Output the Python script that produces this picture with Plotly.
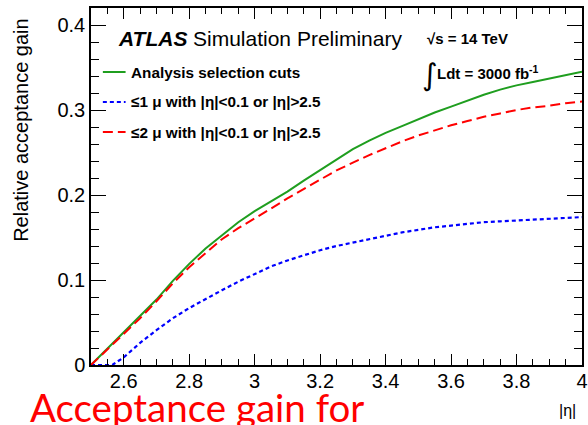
import plotly.graph_objects as go

# ---- data ----
eta_green = [2.50, 2.55, 2.60, 2.65, 2.70, 2.75, 2.80, 2.85, 2.90, 2.95, 3.00, 3.05, 3.10, 3.15, 3.20,
             3.25, 3.30, 3.35, 3.40, 3.45, 3.50, 3.55, 3.60, 3.65, 3.70, 3.75, 3.80, 3.85, 3.90, 3.95, 4.00]
gain_green = [0.0, 0.019, 0.038, 0.057, 0.077, 0.099, 0.119, 0.137, 0.153, 0.168, 0.181, 0.192, 0.204,
              0.217, 0.229, 0.242, 0.254, 0.264, 0.273, 0.281, 0.289, 0.297, 0.304, 0.311, 0.318, 0.324,
              0.329, 0.333, 0.337, 0.341, 0.345]

eta_red = eta_green
gain_red = [0.0, 0.018, 0.037, 0.055, 0.075, 0.096, 0.115, 0.132, 0.148, 0.161, 0.172, 0.184, 0.196,
            0.207, 0.218, 0.229, 0.238, 0.247, 0.255, 0.263, 0.270, 0.276, 0.282, 0.287, 0.292, 0.296,
            0.300, 0.303, 0.305, 0.308, 0.310]

eta_blue = [2.50, 2.565, 2.60, 2.65, 2.70, 2.75, 2.80, 2.85, 2.90, 2.95, 3.00, 3.05, 3.10, 3.15, 3.20,
            3.25, 3.30, 3.35, 3.40, 3.45, 3.50, 3.55, 3.60, 3.65, 3.70, 3.75, 3.80, 3.85, 3.90, 3.95, 4.00]
gain_blue = [0.0, 0.0, 0.009, 0.026, 0.041, 0.055, 0.067, 0.078, 0.088, 0.098, 0.107, 0.116, 0.123,
             0.129, 0.135, 0.140, 0.144, 0.148, 0.152, 0.156, 0.159, 0.162, 0.164, 0.166, 0.168, 0.169,
             0.170, 0.171, 0.172, 0.173, 0.174]

x_ticks = [2.6, 2.8, 3.0, 3.2, 3.4, 3.6, 3.8, 4.0]
x_ticktext = ["2.6", "2.8", "3", "3.2", "3.4", "3.6", "3.8", "4"]
y_ticks = [0.0, 0.1, 0.2, 0.3, 0.4]
y_ticktext = ["0", "0.1", "0.2", "0.3", "0.4"]

series_names = ["Analysis selection cuts",
                "≤1 μ with |η|<0.1 or |η|>2.5",
                "≤2 μ with |η|<0.1 or |η|>2.5"]

GREEN = "#1f9e1f"
BLUE = "#0000ff"
RED = "#ff0000"
FONT = "Liberation Sans"

W, H = 588, 425
ML, MR, MT, MB = 91, 0, 8, 60
PW, PH = W - ML - MR, H - MT - MB


def px(x, y):
    """pixel position -> paper coordinates"""
    return (x - ML) / PW, (H - MB - y) / PH


fig = go.Figure()
fig.add_trace(go.Scatter(x=eta_green, y=gain_green, mode="lines", name=series_names[0],
                         line=dict(color=GREEN, width=2)))
fig.add_trace(go.Scatter(x=eta_blue, y=gain_blue, mode="lines", name=series_names[1],
                         line=dict(color=BLUE, width=2.2, dash="4px,3px")))
fig.add_trace(go.Scatter(x=eta_red, y=gain_red, mode="lines", name=series_names[2],
                         line=dict(color=RED, width=2, dash="10px,5px")))

annotations = []
shapes = []

# legend samples
styles = [(GREEN, "solid", 2), (BLUE, "4px,3px", 2.2), (RED, "10px,5px", 2)]
for i, (name, (c, d, w)) in enumerate(zip(series_names, styles)):
    yy = 72 + 30 * i
    x0, y0 = px(103, yy)
    x1, _ = px(126, yy)
    shapes.append(dict(type="line", xref="paper", yref="paper", x0=x0, x1=x1, y0=y0, y1=y0,
                       line=dict(color=c, width=w, dash=d)))
    tx, ty = px(129, yy)
    annotations.append(dict(xref="paper", yref="paper", x=tx, y=ty, xanchor="left", yanchor="middle",
                            text="<b>" + name + "</b>", showarrow=False,
                            font=dict(family=FONT, size=15.3, color="black")))

ax_, ay_ = px(116, 38)
annotations.append(dict(xref="paper", yref="paper", x=ax_, y=ay_, xanchor="left", yanchor="middle",
                        text="<b><i>ATLAS</i></b>", showarrow=False,
                        font=dict(family=FONT, size=21, color="black")))
sx, sy = px(192, 38)
annotations.append(dict(xref="paper", yref="paper", x=sx, y=sy, xanchor="left", yanchor="middle",
                        text="Simulation Preliminary", showarrow=False,
                        font=dict(family=FONT, size=21, color="black")))
rx, ry = px(429, 38)
annotations.append(dict(xref="paper", yref="paper", x=rx, y=ry, xanchor="left", yanchor="middle",
                        text="<b>√s = 14 TeV</b>", showarrow=False,
                        font=dict(family=FONT, size=15, color="black")))
ix, iy = px(424, 74)
annotations.append(dict(xref="paper", yref="paper", x=ix, y=iy, xanchor="left", yanchor="middle",
                        text="∫", showarrow=False,
                        font=dict(family="DejaVu Sans", size=30, color="black")))
lx, ly = px(439, 72)
annotations.append(dict(xref="paper", yref="paper", x=lx, y=ly, xanchor="left", yanchor="middle",
                        text="<b>Ldt = 3000 fb<sup>-1</sup></b>", showarrow=False,
                        font=dict(family=FONT, size=15, color="black")))

# axis titles
tx, ty = px(20, 130)
annotations.append(dict(xref="paper", yref="paper", x=tx, y=ty, xanchor="center", yanchor="middle",
                        text="Relative acceptance gain", textangle=-90, showarrow=False,
                        font=dict(family=FONT, size=20, color="black")))
ex, ey = px(573, 410)
annotations.append(dict(xref="paper", yref="paper", x=ex, y=ey, xanchor="center", yanchor="middle",
                        text="|η|", showarrow=False,
                        font=dict(family=FONT, size=16, color="black")))

# slide caption (red, partially cut at bottom)
cx, cy = px(27, 382)
annotations.append(dict(xref="paper", yref="paper", x=cx, y=cy, xanchor="left", yanchor="top",
                        text="Acceptance gain for", showarrow=False,
                        font=dict(family="Lato", size=38.5, color=RED)))

fig.update_layout(
    width=W, height=H,
    margin=dict(l=ML, r=MR, t=MT, b=MB, pad=0),
    paper_bgcolor="white", plot_bgcolor="white",
    showlegend=False,
    annotations=annotations, shapes=shapes,
    font=dict(family=FONT, color="black"),
)
fig.update_xaxes(
    range=[2.5, 4.0], tickvals=x_ticks, ticktext=x_ticktext,
    ticks="inside", ticklen=11, tickwidth=1.3, tickcolor="black",
    showline=True, linecolor="black", linewidth=1.5, mirror="allticks",
    showgrid=False, zeroline=False, ticklabeloverflow="allow", ticklabelstandoff=-3,
    tickfont=dict(family=FONT, size=20, color="black"),
    minor=dict(ticks="inside", ticklen=6, tickwidth=1.3, tickcolor="black", dtick=0.05, tick0=2.5,
               showgrid=False),
)
fig.update_yaxes(
    range=[0.0, 0.42], tickvals=y_ticks, ticktext=y_ticktext,
    ticks="inside", ticklen=15, tickwidth=1.3, tickcolor="black",
    showline=True, linecolor="black", linewidth=1.5, mirror="allticks",
    showgrid=False, zeroline=False, ticklabeloverflow="allow",
    tickfont=dict(family=FONT, size=20, color="black"),
    minor=dict(ticks="inside", ticklen=8, tickwidth=1.3, tickcolor="black", dtick=0.02, tick0=0,
               showgrid=False),
)

fig.write_html("out.html")
